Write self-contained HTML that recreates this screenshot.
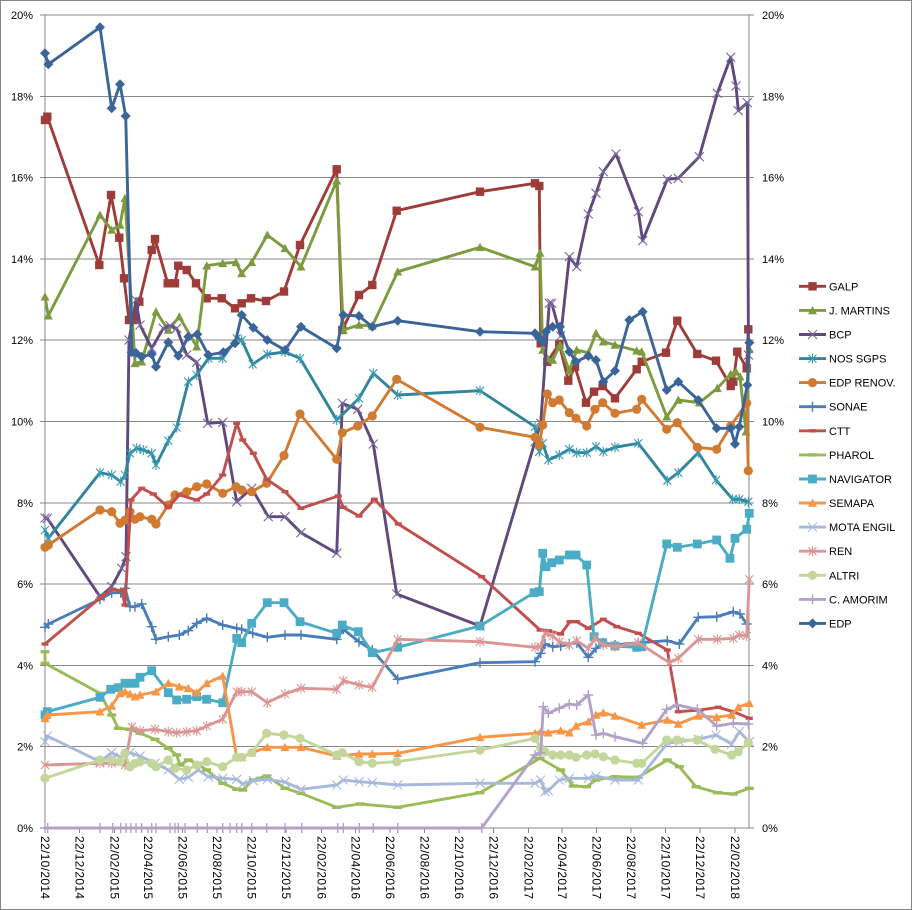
<!DOCTYPE html>
<html><head><meta charset="utf-8"><style>
html,body{margin:0;padding:0;background:#fff;}
svg{display:block;font-family:"Liberation Sans",sans-serif;}
</style></head><body>
<svg width="912" height="910" viewBox="0 0 912 910" xmlns="http://www.w3.org/2000/svg">
<defs>
<marker id="mGALP" markerWidth="10" markerHeight="10" refX="5" refY="5" markerUnits="userSpaceOnUse" overflow="visible"><rect x="0.8" y="0.8" width="8.4" height="8.4" fill="#9E3C39"/></marker>
<marker id="mJM" markerWidth="10" markerHeight="10" refX="5" refY="5" markerUnits="userSpaceOnUse" overflow="visible"><path d="M5,0.5L9.5,8.8L0.5,8.8Z" fill="#7D9B3E"/></marker>
<marker id="mBCP" markerWidth="10" markerHeight="10" refX="5" refY="5" markerUnits="userSpaceOnUse" overflow="visible"><path d="M0.5,0.5L9.5,9.5M9.5,0.5L0.5,9.5" stroke="#7A68A0" stroke-width="1.1" fill="none"/></marker>
<marker id="mNOS" markerWidth="10" markerHeight="10" refX="5" refY="5" markerUnits="userSpaceOnUse" overflow="visible"><path d="M1,1L9,9M9,1L1,9M5,0V10" stroke="#3A9AB3" stroke-width="1.1" fill="none"/></marker>
<marker id="mEDPR" markerWidth="10" markerHeight="10" refX="5" refY="5" markerUnits="userSpaceOnUse" overflow="visible"><circle cx="5" cy="5" r="4.6" fill="#D17A32"/></marker>
<marker id="mSON" markerWidth="10" markerHeight="10" refX="5" refY="5" markerUnits="userSpaceOnUse" overflow="visible"><path d="M5,0V10M0,5H10" stroke="#4A7EBB" stroke-width="1.4" fill="none"/></marker>
<marker id="mCTT" markerWidth="10" markerHeight="10" refX="5" refY="5" markerUnits="userSpaceOnUse" overflow="visible"><path d="M1.5,5H8.5" stroke="#C0504D" stroke-width="3.4" fill="none"/></marker>
<marker id="mPH" markerWidth="10" markerHeight="10" refX="5" refY="5" markerUnits="userSpaceOnUse" overflow="visible"><path d="M0.5,5H9.5" stroke="#9BBB59" stroke-width="3.4" fill="none"/></marker>
<marker id="mNAV" markerWidth="10" markerHeight="10" refX="5" refY="5" markerUnits="userSpaceOnUse" overflow="visible"><rect x="0.6" y="0.6" width="8.8" height="8.8" fill="#4BACC6"/></marker>
<marker id="mSEM" markerWidth="10" markerHeight="10" refX="5" refY="5" markerUnits="userSpaceOnUse" overflow="visible"><path d="M5,0.5L9.5,8.8L0.5,8.8Z" fill="#F79646"/></marker>
<marker id="mMOTA" markerWidth="10" markerHeight="10" refX="5" refY="5" markerUnits="userSpaceOnUse" overflow="visible"><path d="M0.5,0.5L9.5,9.5M9.5,0.5L0.5,9.5" stroke="#A7B9DB" stroke-width="1.1" fill="none"/></marker>
<marker id="mREN" markerWidth="10" markerHeight="10" refX="5" refY="5" markerUnits="userSpaceOnUse" overflow="visible"><path d="M1,1L9,9M9,1L1,9M5,0V10" stroke="#D99694" stroke-width="1.1" fill="none"/></marker>
<marker id="mALT" markerWidth="10" markerHeight="10" refX="5" refY="5" markerUnits="userSpaceOnUse" overflow="visible"><circle cx="5" cy="5" r="4.6" fill="#C3D69B"/></marker>
<marker id="mCA" markerWidth="10" markerHeight="10" refX="5" refY="5" markerUnits="userSpaceOnUse" overflow="visible"><path d="M5,0V10M0,5H10" stroke="#B3A2C7" stroke-width="1.4" fill="none"/></marker>
<marker id="mEDP" markerWidth="10" markerHeight="10" refX="5" refY="5" markerUnits="userSpaceOnUse" overflow="visible"><path d="M5,0L10,5L5,10L0,5Z" fill="#3A6598"/></marker>
</defs>

<rect x="0.5" y="0.5" width="911" height="909" fill="#fff" stroke="#868686" stroke-width="1"/>

<!-- gridlines -->
<g stroke="#878787" stroke-width="1" shape-rendering="crispEdges">
<line x1="45" y1="15" x2="749" y2="15"/>
<line x1="45" y1="96.3" x2="749" y2="96.3"/>
<line x1="45" y1="177.6" x2="749" y2="177.6"/>
<line x1="45" y1="258.9" x2="749" y2="258.9"/>
<line x1="45" y1="340.2" x2="749" y2="340.2"/>
<line x1="45" y1="421.5" x2="749" y2="421.5"/>
<line x1="45" y1="502.8" x2="749" y2="502.8"/>
<line x1="45" y1="584.1" x2="749" y2="584.1"/>
<line x1="45" y1="665.4" x2="749" y2="665.4"/>
<line x1="45" y1="746.7" x2="749" y2="746.7"/>
<line x1="45" y1="828" x2="749" y2="828"/>
<line x1="45" y1="15" x2="45" y2="828"/>
<line x1="749" y1="15" x2="749" y2="828"/>
<!-- axis ticks -->
<path d="M40,15H45M40,96.3H45M40,177.6H45M40,258.9H45M40,340.2H45M40,421.5H45M40,502.8H45M40,584.1H45M40,665.4H45M40,746.7H45M40,828H45"/>
<path d="M749,15H754M749,96.3H754M749,177.6H754M749,258.9H754M749,340.2H754M749,421.5H754M749,502.8H754M749,584.1H754M749,665.4H754M749,746.7H754M749,828H754"/>
<path d="M45,828V833M79.5,828V833M114.6,828V833M148,828V833M182.6,828V833M217.1,828V833M251.7,828V833M286.2,828V833M321.3,828V833M355.3,828V833M389.8,828V833M424.4,828V833M458.9,828V833M493.4,828V833M528.5,828V833M562,828V833M596.5,828V833M631,828V833M665.6,828V833M700.1,828V833M735.2,828V833"/>
</g>

<!-- Y labels -->
<g font-size="11" fill="#000" text-anchor="end">
<text x="33" y="19">20%</text><text x="33" y="100.3">18%</text><text x="33" y="181.6">16%</text><text x="33" y="262.9">14%</text><text x="33" y="344.2">12%</text><text x="33" y="425.5">10%</text><text x="33" y="506.8">8%</text><text x="33" y="588.1">6%</text><text x="33" y="669.4">4%</text><text x="33" y="750.7">2%</text><text x="33" y="832">0%</text>
</g>
<g font-size="11" fill="#000" text-anchor="start">
<text x="762" y="19">20%</text><text x="762" y="100.3">18%</text><text x="762" y="181.6">16%</text><text x="762" y="262.9">14%</text><text x="762" y="344.2">12%</text><text x="762" y="425.5">10%</text><text x="762" y="506.8">8%</text><text x="762" y="588.1">6%</text><text x="762" y="669.4">4%</text><text x="762" y="750.7">2%</text><text x="762" y="832">0%</text>
</g>

<!-- X labels -->
<g font-size="12" fill="#000">
<text transform="translate(45,836) rotate(90)" dy="4" textLength="63" lengthAdjust="spacing">22/10/2014</text>
<text transform="translate(79.5,836) rotate(90)" dy="4" textLength="63" lengthAdjust="spacing">22/12/2014</text>
<text transform="translate(114.6,836) rotate(90)" dy="4" textLength="63" lengthAdjust="spacing">22/02/2015</text>
<text transform="translate(148,836) rotate(90)" dy="4" textLength="63" lengthAdjust="spacing">22/04/2015</text>
<text transform="translate(182.6,836) rotate(90)" dy="4" textLength="63" lengthAdjust="spacing">22/06/2015</text>
<text transform="translate(217.1,836) rotate(90)" dy="4" textLength="63" lengthAdjust="spacing">22/08/2015</text>
<text transform="translate(251.7,836) rotate(90)" dy="4" textLength="63" lengthAdjust="spacing">22/10/2015</text>
<text transform="translate(286.2,836) rotate(90)" dy="4" textLength="63" lengthAdjust="spacing">22/12/2015</text>
<text transform="translate(321.3,836) rotate(90)" dy="4" textLength="63" lengthAdjust="spacing">22/02/2016</text>
<text transform="translate(355.3,836) rotate(90)" dy="4" textLength="63" lengthAdjust="spacing">22/04/2016</text>
<text transform="translate(389.8,836) rotate(90)" dy="4" textLength="63" lengthAdjust="spacing">22/06/2016</text>
<text transform="translate(424.4,836) rotate(90)" dy="4" textLength="63" lengthAdjust="spacing">22/08/2016</text>
<text transform="translate(458.9,836) rotate(90)" dy="4" textLength="63" lengthAdjust="spacing">22/10/2016</text>
<text transform="translate(493.4,836) rotate(90)" dy="4" textLength="63" lengthAdjust="spacing">22/12/2016</text>
<text transform="translate(528.5,836) rotate(90)" dy="4" textLength="63" lengthAdjust="spacing">22/02/2017</text>
<text transform="translate(562,836) rotate(90)" dy="4" textLength="63" lengthAdjust="spacing">22/04/2017</text>
<text transform="translate(596.5,836) rotate(90)" dy="4" textLength="63" lengthAdjust="spacing">22/06/2017</text>
<text transform="translate(631,836) rotate(90)" dy="4" textLength="63" lengthAdjust="spacing">22/08/2017</text>
<text transform="translate(665.6,836) rotate(90)" dy="4" textLength="63" lengthAdjust="spacing">22/10/2017</text>
<text transform="translate(700.1,836) rotate(90)" dy="4" textLength="63" lengthAdjust="spacing">22/12/2017</text>
<text transform="translate(735.2,836) rotate(90)" dy="4" textLength="63" lengthAdjust="spacing">22/02/2018</text>
</g>

<!-- series -->
<g fill="none" stroke-width="2.9" stroke-linejoin="round" stroke-linecap="round">
<polyline stroke="#9E3C39" marker-start="url(#mGALP)" marker-mid="url(#mGALP)" marker-end="url(#mGALP)" points="45,120 47.3,116.7 99.3,265 111,195 119.3,237.7 124,278.3 129,320 134,320 139.3,301.7 151.7,250 155,239 167.7,283.3 175,283.3 178.3,265.7 186.7,270 196,283.3 206.7,298.3 221.7,298.3 235,308.3 241.7,303.3 251,298.3 266,301 284,291.5 300,245 336.7,169.3 342.3,330 359,295 372.3,285 396.7,210.7 480,191.7 535,183.3 539.3,186 540.7,343.3 547.3,361.7 559.3,344 568.3,380.7 575,366.7 586,402.7 594,391.7 602.7,386 615,398.3 636.7,369.3 641.7,361.7 666,352.7 677.3,320.7 697.3,354 716,360.7 730.7,386 733.3,381.7 737.3,351.7 746.7,368.3 748.3,329.3"/>
<polyline stroke="#7D9B3E" marker-start="url(#mJM)" marker-mid="url(#mJM)" marker-end="url(#mJM)" points="45,296.7 48.3,315.7 100,215 111.7,230 120,225 125,198.3 135,363.3 141.7,361.7 156,311.7 168.3,330 179.3,316.7 196.7,346.7 206.7,265.7 222.7,263.3 236,262.3 241.7,273.3 251.7,262.3 267.3,235 285,248.3 301,266.7 336.7,180.7 343.3,330 359,325 372.3,326 397.7,271.7 480,247.3 535,266.7 540,253 542.7,350 547.3,358.3 552.7,360 560,345 569.3,370.7 576.7,350 588.3,352.7 596,333.3 603.3,341.7 615,345 636.7,350.7 641.7,351.7 666.7,416.7 678.3,400 699.3,402.7 717.3,388.3 730.7,374 736,371.7 740,376.7 746,431.7 749.3,349.3"/>
<polyline stroke="#604A7B" marker-start="url(#mBCP)" marker-mid="url(#mBCP)" marker-end="url(#mBCP)" points="45,518 47.3,518.3 100,596.7 111.7,586.7 121.7,568.3 126,556.7 129,340 136,300 140,325 151.7,348.3 163.3,328.3 170,325.7 176.7,328.3 186.7,355 196.7,362.3 207.7,423.3 222.7,422.3 236.7,501.7 251.7,488.3 268.3,516.7 285,516.7 301,532.7 336.7,553.3 342.3,403.3 357.7,409.3 373.3,444 396.7,594 480,626 535,441.7 540.7,423.3 549.3,303.3 551.7,303.3 560.7,336 569.3,256.7 576.7,266.7 588.3,214 596,193.3 603.3,171.7 616,154 638.3,211.7 642.7,240.7 667.3,179.3 678.3,178.3 699.3,156.7 717.3,93.3 730.7,57.3 736,86 738.3,110.7 747.3,102.7 748.5,355"/>
<polyline stroke="#31859C" marker-start="url(#mNOS)" marker-mid="url(#mNOS)" marker-end="url(#mNOS)" points="45,530 48.3,538.3 100,472.7 111.7,475 120.7,481.7 125,475 130,453.3 136.7,448.3 143.3,450 151.7,453.3 156,465 168.3,440.7 176.7,427.5 188.3,381.7 196.7,375 208.3,358.3 222.7,358.3 236.7,338.3 241.7,340 252.7,364.3 267.3,354.3 285,352 300,358.3 336.7,420 359,398.3 373.3,373.3 397.7,395 480,390.7 535,426.7 539.3,451.7 542.7,443.3 548.3,460 559.3,455 569.3,449.3 576.7,452.7 586.7,452.7 596,446.7 603.3,451.7 615,447.3 638.3,443.3 667.3,480.7 678.3,472.7 698.3,452.7 716,480 732.7,499.3 739.3,499.3 748.3,501.7"/>
<polyline stroke="#D17A32" marker-start="url(#mEDPR)" marker-mid="url(#mEDPR)" marker-end="url(#mEDPR)" points="45,547.3 48.3,545 100,510 111.7,511.7 120,523.3 125,520 130,511.7 135,519.3 140,516.7 151.7,519.3 156,524 168.3,505 175,495 186.7,491.7 196.7,486.7 206.7,484 222.7,493.3 236,486.7 241.7,490 251.7,491.7 266.7,483.3 284,455.5 300,414 336.7,459.3 342.3,432.7 357.7,426 372.3,416 396.7,379.3 480,427.3 535,437.3 539.3,445 542.7,425 547.3,394 552.7,402.7 559.3,400 569.3,412.7 576,418.3 586.7,426 595,409.3 602.7,402.7 615,413.3 636.7,409.3 641.7,399.3 666.7,429.3 677.3,422.7 697.3,447.3 716.7,449.3 730.7,426 746.7,403.3 748.3,470.7"/>
<polyline stroke="#4A7EBB" marker-start="url(#mSON)" marker-mid="url(#mSON)" marker-end="url(#mSON)" points="45,627.3 48.3,624 100,599.3 111.7,592.7 120.7,592.7 125,588.3 130,606.7 135,606.7 141.7,604 151.7,626.7 156,639.3 168.3,636.7 179.3,635 188.3,630.7 196.7,623.3 206.7,618.3 222.7,625 236.7,628.3 241.7,629.3 252.7,633.3 267.3,637.3 285,635 301,635 336.7,639.3 343.3,629.3 359,641.7 372.3,650 397.7,679.3 480,662.7 535,661.7 540.7,653.3 545,644 552.7,646.7 560.7,646 569.3,644 576.7,642.7 588.3,657.3 596,648.3 603.3,642.7 615,645 638.3,642.7 667.3,640.7 679.3,644 698.3,617.3 716.7,616.7 733.3,611.7 740,614 746.7,624"/>
<polyline stroke="#C0504D" marker-start="url(#mCTT)" marker-mid="url(#mCTT)" marker-end="url(#mCTT)" points="45,644 100,598 112.7,589.3 121.7,590.7 125,605 131,500 141.7,488.3 153.3,494 168.3,507.3 179.3,495 196.7,500 206.7,494 222.7,475 236.7,423.3 242.7,440 253.3,453.3 266.7,479.3 285,491.7 301,508.3 338.3,496 343.3,507.3 359,516 374.3,499.3 398.3,524 481.7,576.7 540,630 548.3,630.7 560.7,634 570,621.7 576.7,621.7 588.3,628.3 603.3,619.3 616.7,626.7 638.3,633.3 667.3,650 678.3,711.7 700,710 718.3,707.3 733.3,711.7 749.3,718.3"/>
<polyline stroke="#9BBB59" marker-start="url(#mPH)" marker-mid="url(#mPH)" marker-end="url(#mPH)" points="45,651.7 45,663.3 100,693.3 111.7,715 118.3,728.3 130,729.3 140,733.3 155,739.3 168.3,748.3 176.7,755 180,765 188.3,760 196.7,763.3 206.7,770 222.7,783.3 236.7,789.3 242.7,790 253.3,780 266.7,776 285,788.3 301,793.3 336.7,807.3 360,804 397.7,807.3 480,792.7 540,758.3 560.7,770 573.3,786 586.7,786.7 596,780 615,776.7 638.3,777.3 667.3,760 679.3,766.7 696,786.7 717.3,792.7 733.3,794 749.3,788.3"/>
<polyline stroke="#4BACC6" marker-start="url(#mNAV)" marker-mid="url(#mNAV)" marker-end="url(#mNAV)" points="45,715 47.3,711.7 100,697.3 110.7,689.3 118.3,687.7 125,683.3 130,683.3 135,683.3 140,677.3 151.7,670.7 168.3,692.7 176.7,700 186.7,699.3 196.7,696.7 206.7,699.3 222.7,702.7 236.7,638.3 241.7,642.7 251.7,623.3 267.3,602.7 284,602.7 300,621.7 336.7,633.3 342.3,625 358.3,631.7 372.3,652.7 397.7,647.3 480,626 534,592.7 539.3,591.7 542.7,553.3 546,566.7 551.7,562.7 559.3,560 569.3,555 576,555 586.7,565 594,636.7 602.7,642.7 615,646 636.7,647.3 641.7,646.7 666.7,544 677.3,547.3 697.3,544 716.7,540 730,558.3 735,538.3 746.7,529.3 749.3,513.3"/>
<polyline stroke="#F79646" marker-start="url(#mSEM)" marker-mid="url(#mSEM)" marker-end="url(#mSEM)" points="45,718.3 47.3,715 100,711.7 111.7,706 120,693.3 125,691.7 130,694 135,696.7 140,695 156,691.7 168.3,683.3 179.3,686.7 188.3,688.3 196.7,692.7 206.7,683.3 222.7,676 236.7,756.7 241.7,757.3 251.7,752.7 267.3,747.3 285,747.3 301,747.3 336.7,756 359,754 372.3,754 397.7,753.3 480,737.3 535,733.3 540.7,731.7 548.3,732.7 560.7,730.7 569.3,732.7 576,726 588.3,721.7 596,715 603.3,712.7 615,716 641.7,725 667.3,720 678.3,724 698.3,716 716.7,717.3 731.7,715 738.3,707.3 749.3,703.3"/>
<polyline stroke="#A7B9DB" marker-start="url(#mMOTA)" marker-mid="url(#mMOTA)" marker-end="url(#mMOTA)" points="45,741.7 47.3,736 100,761.7 111.7,752.7 120.7,757.3 130,752.7 140,756 155,763.3 168.3,770 179.3,779.3 188.3,777.3 198.3,770 208.3,776.7 222.7,778.3 236.7,779.3 242.7,784 253.3,780.7 267.3,779.3 285,782 301,789.3 336.7,785 343.3,780 359,781.7 372.3,782.7 397.7,785 480,783.3 535,783.3 540.7,780 545,791.7 548.3,790.7 559.3,780 569.3,778.3 588.3,778.3 596,776 615,780 638.3,780 667.3,743.3 679.3,741.7 698.3,739.3 716,735 731.7,744 739.3,731.7 749.3,741.7"/>
<polyline stroke="#D99694" marker-start="url(#mREN)" marker-mid="url(#mREN)" marker-end="url(#mREN)" points="45,765 100,763.3 111.7,763.3 125,765 131.7,726.7 140,730.7 155,729.3 168.3,731.7 176.7,732.7 186.7,731.7 196.7,730.7 206.7,726 222.7,719.3 236.7,691.7 241.7,691.7 251.7,691.7 267.3,702.7 285,694 301,688.3 336.7,689.3 343.3,680.7 359,685 372.3,687.3 397.7,639.3 480,641.7 535,647.3 540.7,646.7 545,633.3 552.7,636 559.3,641.7 569.3,645 576.7,640.7 588.3,648.3 595,638.3 603.3,645 615,646.7 638.3,642.7 669.3,662.7 678.3,658.3 698.3,639.3 717.3,639.3 733.3,638.3 739.3,635 746.7,636 749.3,579.3"/>
<polyline stroke="#C3D69B" marker-start="url(#mALT)" marker-mid="url(#mALT)" marker-end="url(#mALT)" points="45,778.3 100,760 111.7,760 120,761.7 125,753.3 130,766.7 135,763.3 140,761.7 151.7,763.3 156,766.7 168.3,760 175,768.3 186.7,770 196.7,765 206.7,761.7 222.7,766.7 236.7,757.3 241.7,757.3 251.7,752.7 266.7,733.3 284,735 300,738.3 336.7,755 342.3,752.7 359,761.7 372.3,763.3 396.7,761.7 480,750 535,738.3 540.7,748.3 545,751.7 552.7,755 560.7,755 569.3,755 576,757.3 586.7,755 595,754 603.3,756.7 615,760 636.7,763.3 641.7,763.3 666.7,740 677.3,740 697.3,740 715,749.3 731.7,755 738.3,751.7 748.3,742.7"/>
<polyline stroke="#B3A2C7" marker-start="url(#mCA)" marker-mid="url(#mCA)" marker-end="url(#mCA)" points="45,828 47.7,828 100,828 112.7,828 120.7,828 126,828 131,828 136,828 141.7,828 151.7,828 156,828 170,828 175,828 178.3,828 185,828 197.3,828 207.3,828 222.7,828 230,828 236.7,828 241.7,828 251.7,828 266.7,828 285,828 301.7,828 337.7,828 343.3,828 359.3,828 373.3,828 397.7,828 481.7,828 535,755 540.7,753 543.3,706.7 548.3,713.3 559.3,708.3 569.3,704 576.7,705 588.3,695 596,735 603.3,733.3 615,736.7 642.7,743.3 666.7,709.3 677.3,705 697.3,709.3 716.7,726 733.3,723.3 748.3,724"/>
<polyline stroke="#3A6598" marker-start="url(#mEDP)" marker-mid="url(#mEDP)" marker-end="url(#mEDP)" points="45,53.3 48.3,64.3 100,27.3 111.7,108.3 120,84.3 125.7,116 131.7,352.3 136,353 141.7,356.7 151.7,354.3 156,366.7 168.3,342.3 178.3,355.7 188.3,336.7 197.3,334.3 208.3,355 223.3,352.3 235,343.3 241.7,315 253.3,327.7 267.3,340 285,350 301,326.7 336.7,348.3 343.3,315 359,316 372.3,326.7 397.7,320.7 480,331.7 535,333.3 539.3,338.3 542.7,341.7 546,331.7 552.7,326.7 560,326.7 569.3,351.7 576,361.7 588.3,356 596,360 603.3,381.7 615,370.7 629.3,320 642.7,311.7 666.7,390 678.3,381.7 698.3,400 716.7,428.3 730.7,428.3 735,444 739.3,426.7 747.3,385 749.3,342.7"/>
</g>

<!-- legend -->
<g fill="none" stroke-width="2.9">
<path d="M799,286.3H812.5H826" stroke="#9E3C39" marker-mid="url(#mGALP)"/>
<path d="M799,310.4H812.5H826" stroke="#7D9B3E" marker-mid="url(#mJM)"/>
<path d="M799,334.5H812.5H826" stroke="#604A7B" marker-mid="url(#mBCP)"/>
<path d="M799,358.6H812.5H826" stroke="#31859C" marker-mid="url(#mNOS)"/>
<path d="M799,382.6H812.5H826" stroke="#D17A32" marker-mid="url(#mEDPR)"/>
<path d="M799,406.7H812.5H826" stroke="#4A7EBB" marker-mid="url(#mSON)"/>
<path d="M799,430.8H812.5H826" stroke="#C0504D" marker-mid="url(#mCTT)"/>
<path d="M799,454.9H812.5H826" stroke="#9BBB59" marker-mid="url(#mPH)"/>
<path d="M799,479H812.5H826" stroke="#4BACC6" marker-mid="url(#mNAV)"/>
<path d="M799,503H812.5H826" stroke="#F79646" marker-mid="url(#mSEM)"/>
<path d="M799,527.1H812.5H826" stroke="#A7B9DB" marker-mid="url(#mMOTA)"/>
<path d="M799,551.2H812.5H826" stroke="#D99694" marker-mid="url(#mREN)"/>
<path d="M799,575.3H812.5H826" stroke="#C3D69B" marker-mid="url(#mALT)"/>
<path d="M799,599.4H812.5H826" stroke="#B3A2C7" marker-mid="url(#mCA)"/>
<path d="M799,623.4H812.5H826" stroke="#3A6598" marker-mid="url(#mEDP)"/>
</g>
<g font-size="11" fill="#000">
<text x="829" y="290.3">GALP</text>
<text x="829" y="314.4">J. MARTINS</text>
<text x="829" y="338.5">BCP</text>
<text x="829" y="362.6">NOS SGPS</text>
<text x="829" y="386.6">EDP RENOV.</text>
<text x="829" y="410.7">SONAE</text>
<text x="829" y="434.8">CTT</text>
<text x="829" y="458.9">PHAROL</text>
<text x="829" y="483">NAVIGATOR</text>
<text x="829" y="507">SEMAPA</text>
<text x="829" y="531.1">MOTA ENGIL</text>
<text x="829" y="555.2">REN</text>
<text x="829" y="579.3">ALTRI</text>
<text x="829" y="603.4">C. AMORIM</text>
<text x="829" y="627.4">EDP</text>
</g>
</svg>
</body></html>
